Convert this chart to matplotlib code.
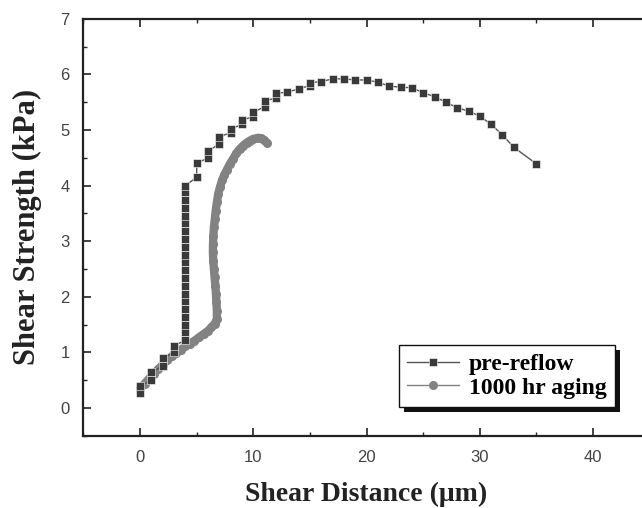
"""Shear strength vs shear distance: pre-reflow vs 1000 hr aging"""
import matplotlib
matplotlib.use("Agg")
import matplotlib.pyplot as plt
from matplotlib.patches import Rectangle
from matplotlib.ticker import MultipleLocator

# pre-reflow (squares)
pre_x = [0, 0, 1, 1, 2, 2, 3, 3,
         4, 4, 4, 4, 4, 4, 4, 4, 4, 4, 4, 4, 4, 4, 4, 4, 4, 4, 4, 4, 4,
         5, 5, 6, 6, 7, 7, 8, 8, 9, 9, 10, 10, 11, 11, 12, 12,
         13, 14, 15, 15, 16, 17, 18, 19, 20, 21, 22, 23, 24, 25, 26, 27,
         28, 29, 30, 31, 32, 33, 35]
pre_y = [0.27, 0.4, 0.5, 0.65, 0.75, 0.9, 1.0, 1.12,
         1.22, 1.36, 1.5, 1.64, 1.78, 1.92, 2.06, 2.2, 2.34, 2.48, 2.62, 2.76,
         2.9, 3.04, 3.18, 3.32, 3.46, 3.6, 3.74, 3.88, 4.0,
         4.15, 4.4, 4.5, 4.62, 4.75, 4.88, 4.95, 5.02, 5.1, 5.18, 5.24, 5.32,
         5.42, 5.52, 5.58, 5.66,
         5.68, 5.74, 5.8, 5.85, 5.87, 5.92, 5.92, 5.9, 5.9, 5.86, 5.79, 5.77,
         5.76, 5.67, 5.6, 5.5, 5.4, 5.34, 5.25, 5.1, 4.91, 4.69, 4.39]

# 1000 hr aging (circles)
aged_x = [0.0, 0.4, 0.8, 1.2, 1.6, 2.0, 2.4, 2.8, 3.2, 3.6, 4.0, 4.4, 4.8,
          5.2, 5.6, 6.0, 6.3, 6.6, 6.78, 6.78, 6.74, 6.7, 6.65, 6.58, 6.52,
          6.46, 6.43, 6.44, 6.47, 6.52, 6.6, 6.68, 6.78, 6.9, 7.06, 7.25,
          7.45, 7.65, 7.9, 8.2, 8.5, 8.8, 9.1, 9.4, 9.7, 10.0, 10.4, 10.7,
          10.95, 11.2]
aged_y = [0.35, 0.44, 0.53, 0.62, 0.7, 0.78, 0.86, 0.93, 0.99, 1.05, 1.11,
          1.16, 1.21, 1.27, 1.33, 1.39, 1.45, 1.52, 1.6, 1.75, 1.9, 2.05, 2.2,
          2.35, 2.5, 2.65, 2.8, 2.95, 3.1, 3.25, 3.4, 3.55, 3.7, 3.85, 3.98,
          4.1, 4.2, 4.28, 4.38, 4.48, 4.58, 4.66, 4.72, 4.77, 4.81, 4.84,
          4.86, 4.85, 4.82, 4.77]

serif = ["Liberation Serif", "DejaVu Serif"]
sans = ["Liberation Sans", "DejaVu Sans"]

fig = plt.figure(figsize=(6.42, 5.08), dpi=100)
ax = fig.add_axes([0.130, 0.142, 0.882, 0.821])

# aged points are so dense they merge into a thick band
ax.plot(aged_x, aged_y, color="#828282", linewidth=6,
        solid_capstyle="round", solid_joinstyle="round", zorder=2)
ax.plot(aged_x, aged_y, color="#828282", linewidth=1.0, marker="o",
        markersize=6.5, markeredgewidth=0, label="1000 hr aging", zorder=2)
ax.plot(pre_x, pre_y, color="#555555", linewidth=1.0, marker="s",
        markersize=6, markerfacecolor="#3a3a3a", markeredgecolor="white",
        markeredgewidth=0.4, label="pre-reflow", zorder=3)

ax.set_xlim(-5, 45)
ax.set_ylim(-0.5, 7)
ax.xaxis.set_major_locator(MultipleLocator(10))
ax.xaxis.set_minor_locator(MultipleLocator(5))
ax.yaxis.set_major_locator(MultipleLocator(1))
ax.yaxis.set_minor_locator(MultipleLocator(0.5))
ax.tick_params(which="both", direction="in", top=True, right=True,
               color="#222222")
ax.tick_params(which="major", length=6, width=1.2, labelsize=12,
               labelcolor="#444444", pad=10)
ax.tick_params(which="minor", length=3, width=1.0)
for lab in ax.get_xticklabels() + ax.get_yticklabels():
    lab.set_family(sans)
for sp in ax.spines.values():
    sp.set_linewidth(1.6)
    sp.set_color("#222222")

ax.set_xlabel("Shear Distance (\u03bcm)", family=serif, fontweight="bold",
              fontsize=20, color="#222222", labelpad=12)
ax.set_ylabel("Shear Strength (kPa)", family=serif, fontweight="bold",
              fontsize=22, color="#222222", labelpad=13)

h, l = ax.get_legend_handles_labels()
leg = ax.legend(h[::-1], l[::-1], loc="upper left",
                bbox_to_anchor=(399 / 642, 1 - 345 / 508),
                bbox_transform=fig.transFigure, borderaxespad=0,
                frameon=True, fancybox=False, handlelength=2.2,
                prop={"family": serif, "weight": "bold", "size": 17},
                labelspacing=0.1, borderpad=0.35, handletextpad=0.4,
                framealpha=1)
leg.get_frame().set_edgecolor("#111111")
leg.get_frame().set_linewidth(1.0)
leg.set_zorder(6)

# black drop shadow under the legend box
fig.canvas.draw()
bb = leg.get_window_extent().transformed(fig.transFigure.inverted())
ax.add_patch(Rectangle((bb.x0 + 5 / 642, bb.y0 - 5 / 508), bb.width,
                       bb.height, transform=fig.transFigure,
                       facecolor="#111111", edgecolor="none", zorder=5,
                       clip_on=False))

fig.savefig("out.png", dpi=100)
